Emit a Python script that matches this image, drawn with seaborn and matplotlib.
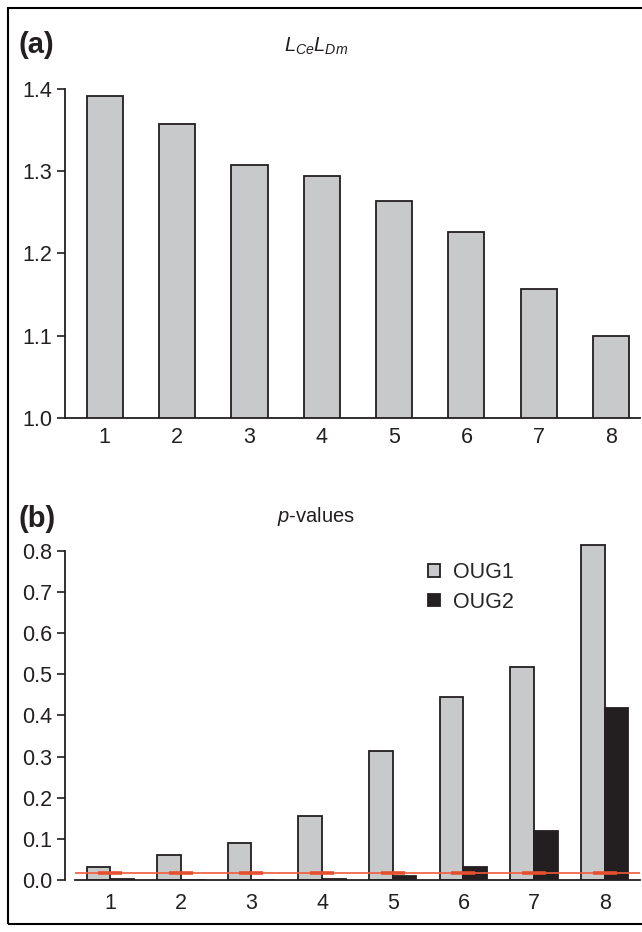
import matplotlib
matplotlib.use('Agg')
import numpy as np
import pandas as pd
import matplotlib.pyplot as plt
import seaborn as sns

sns.set_theme(style='white')
plt.rcParams['font.family'] = ['Liberation Sans', 'DejaVu Sans']
plt.rcParams['mathtext.fontset'] = 'custom'
plt.rcParams['mathtext.it'] = 'Liberation Sans:italic'
plt.rcParams['mathtext.rm'] = 'Liberation Sans'

# data
runs = ['1', '2', '3', '4', '5', '6', '7', '8']
lce_ldm = [1.391, 1.358, 1.308, 1.294, 1.264, 1.226, 1.157, 1.099]
oug1_p = [0.032, 0.061, 0.091, 0.155, 0.313, 0.445, 0.518, 0.813]
oug2_p = [0.002, 0.001, 0.001, 0.003, 0.010, 0.032, 0.120, 0.419]
threshold = 0.0167
a_ticks = [1.0, 1.1, 1.2, 1.3, 1.4]
b_ticks = [0.0, 0.1, 0.2, 0.3, 0.4, 0.5, 0.6, 0.7, 0.8]

GREY = '#c8c9cb'
DARK = '#231f20'
RED = '#f15a3a'
RED2 = '#e4502f'
FS = 15.5

W, H = 642, 932
fig = plt.figure(figsize=(W / 100, H / 100), dpi=100)
ax_a = fig.add_axes([65 / W, 1 - 417.7 / H, 575 / W, (417.7 - 89) / H])
ax_b = fig.add_axes([65 / W, 1 - 880 / H, 575 / W, (880 - 538.4) / H])

# (a)
sns.barplot(x=runs, y=lce_ldm, color=GREY, edgecolor=DARK, linewidth=1.3,
            width=0.5, saturation=1, ax=ax_a)
ax_a.set_ylim(1.0, 1.4)
ax_a.set_xlim(-0.55, 7.4)
ax_a.set_yticks(a_ticks)
ax_a.set_yticklabels([f'{t:.1f}' for t in a_ticks])

# (b)
df_b = pd.DataFrame({'run': runs * 2,
                     'p': oug1_p + oug2_p,
                     'test': ['OUG1'] * len(runs) + ['OUG2'] * len(runs)})
sns.barplot(data=df_b, x='run', y='p', hue='test',
            palette={'OUG1': GREY, 'OUG2': DARK}, edgecolor=DARK,
            linewidth=1.3, width=0.67, saturation=1, ax=ax_b)
ax_b.set_ylim(0, 0.83)
ax_b.set_xlim(-0.64, 7.5)
ax_b.set_yticks(b_ticks)
ax_b.set_yticklabels([f'{t:.1f}' for t in b_ticks])

xpos = np.arange(len(runs))
ax_b.hlines(threshold, -0.5, 7.5, color=RED, lw=1.2, zorder=5)
ax_b.hlines([threshold] * len(runs), xpos - 0.17, xpos + 0.17, color=RED2, lw=2.6, zorder=5)

ax_b.legend(loc='upper left', bbox_to_anchor=(428 / W, 1 - 562 / H),
            bbox_transform=fig.transFigure, frameon=False, fontsize=FS,
            handlelength=0.55, handleheight=0.55, handletextpad=0.6,
            labelspacing=0.4, borderpad=0, borderaxespad=0)

for ax, ylo, yhi, xpad in [(ax_a, 1.0, 1.4, 6.5), (ax_b, 0.0, 0.8, 9.5)]:
    sns.despine(ax=ax)
    ax.set_xlabel('')
    ax.set_ylabel('')
    for s in ['left', 'bottom']:
        ax.spines[s].set_color(DARK)
        ax.spines[s].set_linewidth(1.3)
    ax.spines['left'].set_bounds(ylo, yhi)
    ax.tick_params(axis='y', left=True, length=5.8, width=1.2, color=DARK,
                   pad=3.5, labelsize=FS, labelcolor=DARK)
    ax.tick_params(axis='x', bottom=False, length=0, pad=xpad,
                   labelsize=FS, labelcolor=DARK)
ax_b.spines['bottom'].set_bounds(-0.5, 7.5)

fig.text(18 / W, 1 - 45 / H, '(a)', fontsize=21, fontweight='bold', va='center', color=DARK)
fig.text(316 / W, 1 - 46 / H, r'$L_{Ce}L_{Dm}$', fontsize=14.5, ha='center', va='center', color=DARK)
fig.text(18 / W, 1 - 519 / H, '(b)', fontsize=21, fontweight='bold', va='center', color=DARK)
fig.text(316 / W, 1 - 517 / H, r'$p$-values', fontsize=14.5, ha='center', va='center', color=DARK)

fig.add_artist(plt.Rectangle((8 / W, 8 / H), 1.0, 1 - 16 / H, transform=fig.transFigure,
                             fill=False, lw=1.5, ec='black'))

fig.savefig('out.png', dpi=100)
